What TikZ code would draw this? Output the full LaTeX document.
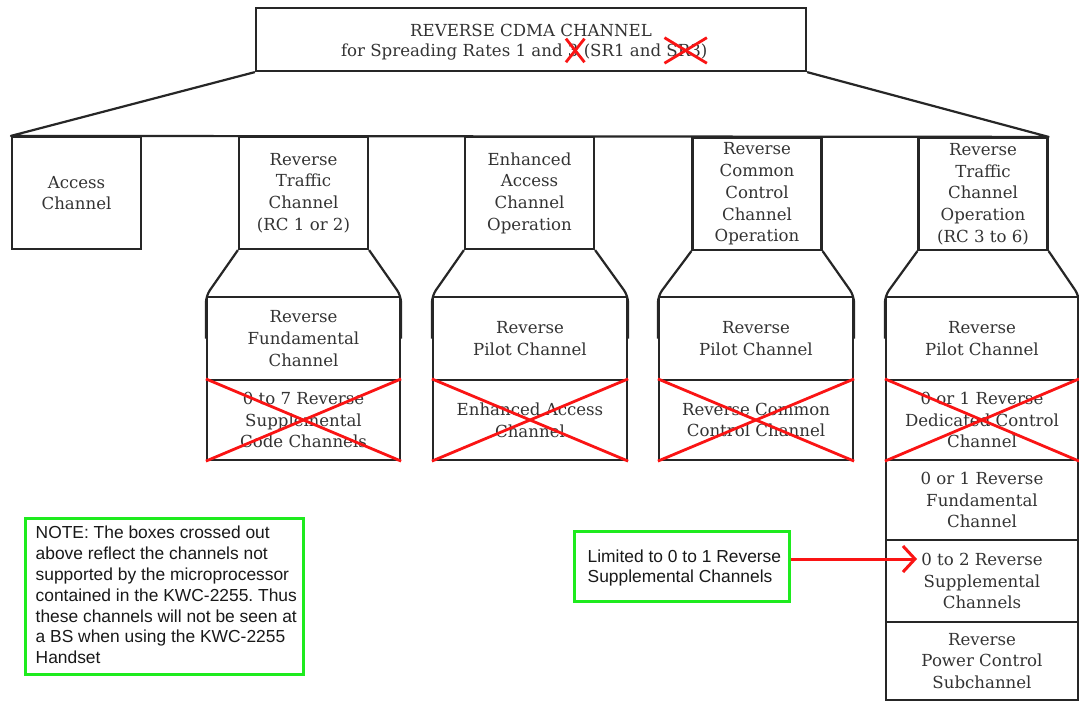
\documentclass[tikz,border=0pt]{standalone}
\usepackage{fontspec}
\setmainfont{DejaVu Serif}
\newfontfamily\notefont{Liberation Sans}
\usetikzlibrary{arrows.meta,calc}
\definecolor{notegreen}{RGB}{30,235,30}
\definecolor{xred}{RGB}{250,20,20}
\frenchspacing
\begin{document}
\begin{tikzpicture}[x=1pt,y=-1pt,
  lbl/.style={font=\fontsize{16.6}{21.7}\selectfont, text=black!80, align=center, inner sep=0pt},
  box/.style={lbl, draw=black!85, line width=2.2pt, rectangle},
  edge/.style={draw=black!85, line width=2.2pt, line join=round},
  rowbox/.style={box, minimum width=129pt, minimum height=112pt},
  upbox/.style={box, minimum width=#1, minimum height=83pt},
  lowbox/.style={box, minimum width=#1, minimum height=80pt},
  cross/.style={draw=xred, line width=2.8pt},
  titlepart/.style={lbl, anchor=base west, inner sep=0pt, outer sep=0pt},
  greenbox/.style={draw=notegreen, line width=3pt, rectangle, inner sep=0pt},
  notetext/.style={align=left, anchor=west, inner sep=0pt,
     font=\notefont\fontsize{17.4}{20.8}\selectfont, text=black!90},
  redarrow/.style={draw=xred, line width=3pt, -{Straight Barb[length=12pt,width=26pt,line width=3pt]}}
]
\fill[white] (0,0) rectangle (1079,702);
\useasboundingbox (0,0) rectangle (1079,702);

% title
\node[box, minimum width=550pt, minimum height=63pt] (top) at (531,39.5) {};
\node[lbl] (t1) at (531,30) {REVERSE CDMA CHANNEL};
\node[titlepart] (t2a) at (341,56) {for Spreading Rates 1 and\ };
\node[titlepart] (t2b) at (t2a.base east) {3};
\node[titlepart] (t2c) at (t2b.base east) {\ (SR1 and\ };
\node[titlepart] (t2d) at (t2c.base east) {SR3};
\node[titlepart] (t2e) at (t2d.base east) {)};

% second row
\node[rowbox] (acc) at (76.5,193) {Access\\Channel};
\node[rowbox] (rtc) at (303.5,193) {Reverse\\Traffic\\Channel\\(RC 1 or 2)};
\node[rowbox] (eac) at (529.5,193) {Enhanced\\Access\\Channel\\Operation};
\node[rowbox] (rcc) at (757,194) {Reverse\\Common\\Control\\Channel\\Operation};
\node[rowbox] (rto) at (983,194) {Reverse\\Traffic\\Channel\\Operation\\(RC 3 to 6)};

\draw[edge] (top.south west) -- (acc.north west) -- (rto.north east) -- (top.south east);

% sub boxes
\node[upbox=193pt] (a1) at (303.5,338.5) {Reverse\\Fundamental\\Channel};
\node[lowbox=193pt] (a2) at (303.5,420) {0 to 7 Reverse\\Supplemental\\Code Channels};
\node[upbox=194pt] (b1) at (530,338.5) {Reverse\\Pilot Channel};
\node[lowbox=194pt] (b2) at (530,420) {Enhanced Access\\Channel};
\node[upbox=194pt] (c1) at (756,338.5) {Reverse\\Pilot Channel};
\node[lowbox=194pt] (c2) at (756,420) {Reverse Common\\Control Channel};
\node[upbox=192pt] (d1) at (982,338.5) {Reverse\\Pilot Channel};
\node[lowbox=192pt] (d2) at (982,420) {0 or 1 Reverse\\Dedicated Control\\Channel};
\node[box, minimum width=192pt, minimum height=80pt] (d3) at (982,500) {0 or 1 Reverse\\Fundamental\\Channel};
\node[box, minimum width=192pt, minimum height=82pt] (d4) at (982,581) {0 to 2 Reverse\\Supplemental\\Channels};
\node[box, minimum width=192pt, minimum height=78pt] (d5) at (982,661) {Reverse\\Power Control\\Subchannel};

% funnels
\foreach \up/\dn in {rtc/a1, eac/b1, rcc/c1, rto/d1}{
  \draw[edge, rounded corners=7pt] (\up.south west) -- (\dn.north west) -- (\dn.west);
  \draw[edge, rounded corners=7pt] (\up.south east) -- (\dn.north east) -- (\dn.east);
}

% crosses
\foreach \n in {a2,b2,c2,d2}{
  \draw[cross] (\n.north west) -- (\n.south east);
  \draw[cross] (\n.south west) -- (\n.north east);
}
\draw[cross] ([xshift=-2pt,yshift=-6pt]t2b.south west) -- ([xshift=6pt,yshift=5pt]t2b.north east);
\draw[cross] ([xshift=-2pt,yshift=5pt]t2b.north west) -- ([xshift=6pt,yshift=-6pt]t2b.south east);
\draw[cross] ([xshift=-2pt,yshift=-7pt]t2d.south west) -- ([xshift=6pt,yshift=6pt]t2d.north east);
\draw[cross] ([xshift=-2pt,yshift=6pt]t2d.north west) -- ([xshift=6pt,yshift=-7pt]t2d.south east);

% notes
\node[greenbox, minimum width=278pt, minimum height=156pt] (note) at (164,596) {};
\node[notetext] (notetxt) at ([xshift=12pt,yshift=1pt]note.west)
 {NOTE: The boxes crossed out\\above reflect the channels not\\supported by the microprocessor\\contained in the KWC-2255. Thus\\these channels will not be seen at\\a BS when using the KWC-2255\\Handset};
\node[greenbox, minimum width=215pt, minimum height=70pt] (lim) at (681.5,566) {};
\node[notetext] (limtxt) at ([xshift=15pt,yshift=-2pt]lim.west)
 {Limited to 0 to 1 Reverse\\Supplemental Channels};
\coordinate (tip) at (917,559);
\draw[redarrow] (lim.east |- tip) -- (tip);
\end{tikzpicture}
\end{document}
